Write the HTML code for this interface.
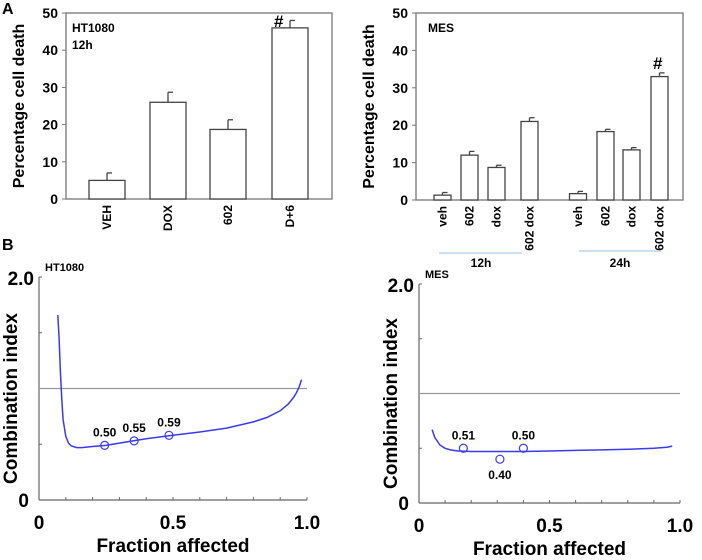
<!DOCTYPE html>
<html><head><meta charset="utf-8"><style>
body{margin:0;background:#fff;}
svg{display:block;font-family:"Liberation Sans",Arial,sans-serif;}
</style></head><body>
<svg id="fig" width="702" height="560" viewBox="0 0 702 560" xmlns="http://www.w3.org/2000/svg"></svg>
<script>
// ---- Panel A1 data (HT1080) ----
const a1Cats = ["VEH","DOX","602","D+6"];
const a1Vals = [5, 26, 18.7, 46];
const a1Errs = [2, 2.7, 2.6, 2];
// ---- Panel A2 data (MES) ----
const a2Cats = ["veh","602","dox","602 dox","veh","602","dox","602 dox"];
const a2Vals = [1.3, 12, 8.7, 21, 1.7, 18.3, 13.4, 33];
const a2Errs = [0.7, 1, 0.6, 1, 0.6, 0.6, 0.6, 1];
const aTicks = [0,10,20,30,40,50];
// ---- Panel B1 data (HT1080 CI curve) ----
const b1Fa = [0.07,0.075,0.08,0.085,0.09,0.1,0.11,0.12,0.14,0.16,0.2,0.25,0.3,0.35,0.4,0.5,0.6,0.7,0.8,0.85,0.9,0.93,0.95,0.96,0.97,0.98];
const b1Ci = [1.66,1.45,1.15,0.9,0.72,0.57,0.51,0.485,0.47,0.47,0.48,0.49,0.51,0.53,0.55,0.58,0.61,0.645,0.7,0.74,0.8,0.86,0.92,0.96,1.01,1.08];
const b1PtFa = [0.245,0.355,0.485];
const b1PtCi = [0.49,0.53,0.58];
const b1PtLbl = ["0.50","0.55","0.59"];
// ---- Panel B2 data (MES CI curve) ----
const b2Fa = [0.05,0.06,0.08,0.1,0.12,0.15,0.2,0.3,0.4,0.5,0.6,0.7,0.8,0.9,0.95,0.97];
const b2Ci = [0.67,0.6,0.53,0.5,0.485,0.475,0.47,0.47,0.47,0.475,0.48,0.485,0.49,0.5,0.51,0.52];
const b2PtFa = [0.17,0.31,0.40];
const b2PtCi = [0.50,0.40,0.50];
const b2PtLbl = ["0.51","0.40","0.50"];
const bXTicks = ["0","0.5","1.0"];

const svg = document.getElementById('fig');
const NS = "http://www.w3.org/2000/svg";
function mk(tag, attrs, parent){const e=document.createElementNS(NS,tag);for(const k in attrs)e.setAttribute(k,attrs[k]);(parent||svg).appendChild(e);return e;}
function txt(s, attrs, parent){const e=mk('text',attrs,parent);e.textContent=s;return e;}

let t;
t=txt("A",{x:2,y:14,"font-size":16,"font-weight":"bold"});

t=txt("B",{x:2,y:250,"font-size":16,"font-weight":"bold"});


function barChart(name, x0, x1, y0, y1, cats, vals, errs, centers, bw){
  const g=mk('g',{});
  
  
  const ys=v=>y0-(v/50)*(y0-y1);
  const fr=mk('rect',{x:x0,y:y1,width:x1-x0,height:y0-y1,fill:"none",stroke:"#777","stroke-width":1.3},g);
  
  aTicks.forEach(v=>{
    const tl=txt(String(v),{x:x0-8,y:ys(v)+5,"font-size":14,"font-weight":"bold","text-anchor":"end"},g);
    
    mk('line',{x1:x0-4,x2:x0,y1:ys(v),y2:ys(v),stroke:"#777"},g);
  });
  const yt=txt("Percentage cell death",{x:0,y:0,"font-size":16,"font-weight":"bold","text-anchor":"middle",transform:`translate(${x0-42},${(y0+y1)/2}) rotate(-90)`},g);
  
  cats.forEach((c,i)=>{
    const cx=centers[i];
    const b=mk('rect',{x:cx-bw/2,y:ys(vals[i]),width:bw,height:y0-ys(vals[i]),fill:"#fff",stroke:"#444","stroke-width":1.3},g);
    
    const ye=ys(vals[i]+errs[i]);
    const e1=mk('line',{x1:cx,x2:cx,y1:ys(vals[i]),y2:ye,stroke:"#444","stroke-width":1.3},g);
    
    mk('line',{x1:cx,x2:cx+5,y1:ye,y2:ye,stroke:"#444","stroke-width":1.3},g);
    const cl=txt(c,{x:0,y:0,"font-size":12,"font-weight":"bold","text-anchor":"end",transform:`translate(${cx+4},${y0+6}) rotate(-90)`},g);
    
  });
  return {g,ys};
}
const A1=barChart('chart-a-ht1080',66,332,199,13,a1Cats,a1Vals,a1Errs,[107,168,228,290],36);
let l=txt("HT1080",{x:72,y:32,"font-size":12,"font-weight":"bold"},A1.g);
l=txt("12h",{x:72,y:49,"font-size":12,"font-weight":"bold"},A1.g);
l=txt("#",{x:274,y:27,"font-size":17,"font-weight":"bold"},A1.g);

const A2=barChart('chart-a-mes',416,683,200,13,a2Cats,a2Vals,a2Errs,[442.5,469.5,496.5,529.5,578,605.5,631.5,659.5],17);
l=txt("MES",{x:428,y:32,"font-size":12,"font-weight":"bold"},A2.g);
l=txt("#",{x:653,y:69,"font-size":17,"font-weight":"bold"},A2.g);
let gl=mk('line',{x1:439,x2:522,y1:253,y2:253,stroke:"#bcd6ee","stroke-width":1.5},A2.g);
gl=mk('line',{x1:579,x2:661,y1:251,y2:251,stroke:"#bcd6ee","stroke-width":1.5},A2.g);
l=txt("12h",{x:481,y:267,"font-size":12,"font-weight":"bold","text-anchor":"middle"},A2.g);
l=txt("24h",{x:620,y:267,"font-size":12,"font-weight":"bold","text-anchor":"middle"},A2.g);

function ciChart(name, ox, oy, xr, yt, fa, ci, pf, pc, plbl, lblBelow, title){
  const g=mk('g',{});
  
  
  const xs=v=>ox+v*(xr-ox), ys=v=>oy-(v/2)*(oy-yt);
  mk('line',{x1:ox,x2:ox,y1:yt,y2:oy,stroke:"#666","stroke-width":1.2},g);
  mk('line',{x1:ox,x2:xr,y1:oy,y2:oy,stroke:"#666","stroke-width":1.2},g);
  for(let i=1;i<=10;i++) mk('line',{x1:xs(i/10),x2:xs(i/10),y1:oy,y2:oy-3,stroke:"#666"},g);
  [0.5,1,1.5,2].forEach(v=>mk('line',{x1:ox,x2:ox+3,y1:ys(v),y2:ys(v),stroke:"#666"},g));
  const hl=mk('line',{x1:ox,x2:xr,y1:ys(1),y2:ys(1),stroke:"#999","stroke-width":1.2},g);
  
  let e=txt("2.0",{x:ox-5,y:ys(2)+8,"font-size":19,"font-weight":"bold","text-anchor":"end"},g);
  e=txt("0",{x:ox-10,y:oy+7,"font-size":19,"font-weight":"bold","text-anchor":"end"},g);
  [0,0.5,1].forEach((v,i)=>{const x=txt(bXTicks[i],{x:xs(v),y:oy+29,"font-size":19,"font-weight":"bold","text-anchor":"middle"},g);});
  e=txt("Fraction affected",{x:(ox+xr)/2,y:oy+52,"font-size":19,"font-weight":"bold","text-anchor":"middle"},g);
  e=txt("Combination index",{x:0,y:0,"font-size":19,"font-weight":"bold","text-anchor":"middle",transform:`translate(${ox-22},${(oy+yt)/2+10}) rotate(-90)`},g);
  e=txt(title,{x:ox+6,y:yt-6,"font-size":11,"font-weight":"bold"},g);
  const p=mk('path',{d:fa.map((v,i)=>(i?'L':'M')+xs(v).toFixed(1)+','+ys(ci[i]).toFixed(1)).join(' '),fill:"none",stroke:"#3a3af0","stroke-width":1.5},g);
  
  pf.forEach((v,i)=>{
    const c=mk('circle',{cx:xs(v),cy:ys(pc[i]),r:4,fill:"none",stroke:"#3a3af0","stroke-width":1.2},g);
    
    const lb=txt(plbl[i],{x:xs(v),y:lblBelow[i]?ys(pc[i])+20:ys(pc[i])-9,"font-size":12,"font-weight":"bold","text-anchor":"middle"},g);
    
  });
}
ciChart('chart-b-ht1080',39,500,307,277,b1Fa,b1Ci,b1PtFa,b1PtCi,b1PtLbl,[false,false,false],"HT1080");
ciChart('chart-b-mes',419,503,680,284,b2Fa,b2Ci,b2PtFa,b2PtCi,b2PtLbl,[false,true,false],"MES");
</script>
</body></html>
